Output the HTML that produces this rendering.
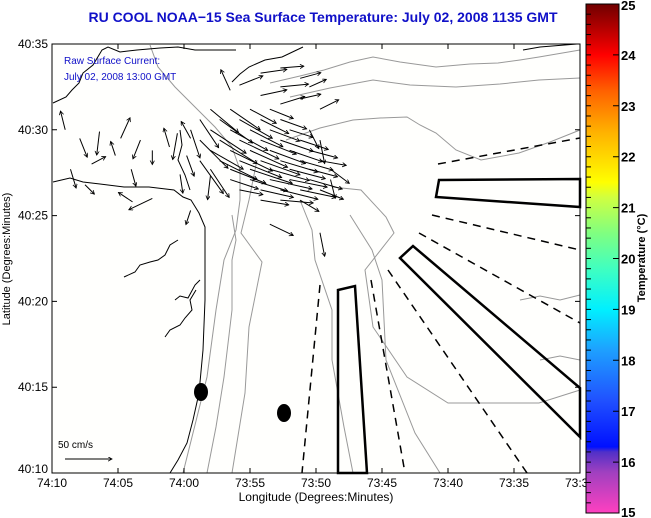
<!DOCTYPE html>
<html><head><meta charset="utf-8"><style>
html,body{margin:0;padding:0;background:#fff}
svg{display:block;font-family:"Liberation Sans",sans-serif}
</style></head><body>
<svg id="chart" width="651" height="518" viewBox="0 0 651 518">
<defs>
<linearGradient id="cbar" x1="0" y1="1" x2="0" y2="0">
<stop offset="0" stop-color="#ff40c0"/>
<stop offset="0.08" stop-color="#a040c0"/>
<stop offset="0.12" stop-color="#5030c8"/>
<stop offset="0.13" stop-color="#0010ff"/>
<stop offset="0.22" stop-color="#2050ff"/>
<stop offset="0.32" stop-color="#1ea0ff"/>
<stop offset="0.40" stop-color="#00f0ff"/>
<stop offset="0.48" stop-color="#40ffc0"/>
<stop offset="0.55" stop-color="#80ff80"/>
<stop offset="0.62" stop-color="#d0ff40"/>
<stop offset="0.65" stop-color="#ffff00"/>
<stop offset="0.75" stop-color="#ffb000"/>
<stop offset="0.83" stop-color="#ff6000"/>
<stop offset="0.90" stop-color="#ff0000"/>
<stop offset="1" stop-color="#700000"/>
</linearGradient>
<marker id="ah" markerWidth="5" markerHeight="5" refX="4" refY="2.2" orient="auto" markerUnits="userSpaceOnUse"><path d="M0,0 L4,2.2 L0,4.4" fill="none" stroke="#000" stroke-width="0.8"/></marker>
</defs>
<text x="323" y="22" text-anchor="middle" font-size="14" font-weight="bold" fill="#1010c8">RU COOL  NOAA−15  Sea Surface Temperature:  July 02, 2008 1135 GMT</text>
<rect x="52" y="44" width="528" height="429" fill="#fffffd"/>
<g id="contours" fill="none" stroke="#999" stroke-width="1">
<polyline points="150,45 158,67 175,87 195,107 215,127 232,147 240,170 240,200 236,230 224,260 216,310 207,377 183,473"/>
<polyline points="232,215 236,240 232,260 232,310 224,377 216,427 207,473"/>
<polyline points="257,160 249,200 241,233 262,262 249,327 245,393 232,473"/>
<polyline points="300,200 312,230 315,260 332,310 332,360 344,427 353,473"/>
<polyline points="350,215 372,250 382,280 386,360 415,433 440,473"/>
<polyline points="332,187 361,190 386,217 394,233 365,270 373,327 407,377 448,403 539,403 580,390"/>
<polyline points="270,83 300,76 324,70 350,62 373,57 400,62 436,67 470,64 498,63 520,60 539,57 580,50"/>
<polyline points="290,97 330,88 373,80 410,85 456,87 500,84 539,80 580,78"/>
<polyline points="286,140 320,128 353,120 380,118 407,117 420,125 436,133 456,150 481,160 519,153 550,142 580,130"/>
<polyline points="520,300 540,296 560,300 580,295"/>
<polyline points="540,360 560,356 580,360"/>
</g>
<g id="coast" fill="none" stroke="#000" stroke-width="1">
<polyline points="53,103 66,97 72,90 79,83 83,73 93,65 102,50 108,47 120,52 137,50 160,48 178,47 195,50 207,50 236,50"/>
<polyline points="232,82 240,74 249,67 265,60 282,57 303,47"/>
<polyline points="523,50 540,47 577,44"/>
<polyline points="53,182 70,178 83,182 100,184 124,187 149,187 174,190 183,197 191,200 199,213 205,227 205,260 205,300 203,350 199,393 193,420 187,443 178,460 170,473"/>
<polyline points="124,277 135,272 140,265 150,262 158,260 165,255 170,245 178,240"/>
<polyline points="165,337 170,330 180,325 185,318 192,310 190,300 196,290"/>
<polyline points="175,300 180,296 188,298 195,285 200,280"/>
<polyline points="180,130 182,145 178,160 185,175 190,190"/>
</g>
<g id="arrows"></g>
<g id="features">
<polygon points="439,180 580,179 580,207 436,197" fill="none" stroke="#000" stroke-width="2.5"/>
<polygon points="400,258 413,246 580,388 580,437" fill="none" stroke="#000" stroke-width="2.5"/>
<polygon points="338,473 338,290 355,286 367,473" fill="none" stroke="#000" stroke-width="2.5"/>
<g fill="none" stroke="#000" stroke-width="1.5" stroke-dasharray="8,6">
<line x1="438" y1="164" x2="580" y2="138"/>
<line x1="432" y1="215" x2="580" y2="250"/>
<line x1="419" y1="233" x2="580" y2="323"/>
<line x1="388" y1="270" x2="527" y2="473"/>
<line x1="371" y1="280" x2="405" y2="473"/>
<line x1="320" y1="285" x2="302" y2="473"/>
</g>
<ellipse cx="201" cy="392" rx="7" ry="9" fill="#000"/>
<ellipse cx="284" cy="413" rx="7" ry="9" fill="#000"/>
</g>
<text x="64" y="64" font-size="10" fill="#1010c8">Raw Surface Current:</text>
<text x="64" y="80" font-size="10" fill="#1010c8">July 02, 2008 13:00 GMT</text>
<text x="58" y="448" font-size="10" fill="#000">50 cm/s</text>
<line x1="65" y1="459" x2="112" y2="459" stroke="#000" stroke-width="1" marker-end="url(#ah)"/>
<rect x="52" y="44" width="528" height="429" fill="none" stroke="#000" stroke-width="1"/>
<g id="axes" font-size="12" fill="#000"></g>
<text x="316" y="501" text-anchor="middle" font-size="12">Longitude (Degrees:Minutes)</text>
<text transform="translate(10,259) rotate(-90)" text-anchor="middle" font-size="11">Latitude (Degrees:Minutes)</text>
<rect x="586" y="4" width="33" height="509" fill="url(#cbar)" stroke="#000" stroke-width="1"/>
<g id="cbticks" font-size="13" font-weight="bold"></g>
<text transform="translate(645,258) rotate(-90)" text-anchor="middle" font-size="11" font-weight="bold">Temperature (°C)</text>
</svg>
<script>
const xTickLabels = ["74:10","74:05","74:00","73:55","73:50","73:45","73:40","73:35","73:30"];
const yTickLabels = ["40:10","40:15","40:20","40:25","40:30","40:35"];
const cbLabels = [15,16,17,18,19,20,21,22,23,24,25];
// arrows: east-minutes from 74:10, north-minutes from 40:10, u & v in cm/s
const arrowLon = [15.8,17.3,18.8,17.3,15.8,17.3,18.8,14.2,19.5,20.3,13.5,
12.0,13.5,15.0,16.5, 11.2,12.7,14.2,15.8,17.3, 10.5,12.0,13.5,15.0,16.5,18.0,19.5,
11.2,12.7,14.2,15.8,17.3,18.8,20.3, 12.0,13.5,15.0,16.5,18.0,19.5,
11.2,12.7,14.2,15.8,17.3,18.8,20.3, 12.0,13.5,15.0,16.5,18.0,19.5,21.1,
13.5,15.0,16.5,18.0,19.5,21.1, 14.2,15.8,17.3,18.8,20.3, 15.8,17.3,18.8,
16.5,20.3,7.6,6.1,10.5,12.0,
1.0,2.1,3.6,5.2,6.7,1.4,3.0,4.8,6.0,7.6,2.5,8.9,9.7,10.5,9.5,10.2];
const arrowLat = [23.3,23.6,23.0,22.5,22.0,21.5,21.8,22.6,22.5,21.2,22.3,
21.2,21.2,21.2,21.2, 20.6,20.6,20.6,20.6,20.6, 20.0,20.0,20.0,20.0,20.0,20.0,20.0,
19.4,19.4,19.4,19.4,19.4,19.4,19.4, 18.8,18.8,18.8,18.8,18.8,18.8,
18.2,18.2,18.2,18.2,18.2,18.2,18.2, 17.7,17.7,17.7,17.7,17.7,17.7,17.7,
17.1,17.1,17.1,17.1,17.1,17.1, 16.5,16.5,16.5,16.5,16.5, 15.9,15.9,15.9,
14.5,14.0,16.0,15.8,15.3,17.3,
20.0,19.5,19.9,19.5,19.4,17.7,18.0,18.5,17.7,18.8,16.8,19.0,17.4,19.5,19.8,18.5];
const arrowU = [28,25,22,30,28,26,22,25,18,20,-10,
30,32,28,25, 20,35,35,30,28, 10,38,40,35,32,25,10,
30,40,42,38,35,30,5, 35,45,40,38,35,30,
25,40,45,42,40,35,28, 20,38,45,42,38,30,20,
30,40,45,40,35,5, 25,35,40,38,25, 30,35,20,
25,5,-25,-15,-5,-3,
-5,8,-3,10,-8,6,15,-5,5,0,10,-6,3,-10,-5,8];
const arrowV = [4,2,6,3,6,8,5,10,8,10,22,
-25,-22,-15,-10, -30,-25,-20,-15,-10, -30,-25,-22,-18,-12,-8,-20,
-30,-25,-20,-15,-12,-10,-25, -20,-22,-18,-14,-12,-8,
-35,-20,-18,-15,-12,-10,-5, -30,-15,-15,-12,-10,-8,-15,
-10,-12,-10,-8,-10,-20, -5,-8,-10,-8,-10, -5,-3,-12,
-12,-25,-12,10,-15,-25,
20,-20,-25,22,-20,-20,8,15,-18,-15,-10,20,-20,18,-28,-22];

const NS="http://www.w3.org/2000/svg";
const X0=52,X1=580,Y0=473,Y1=44;
function xScale(m){return X0+m*(X1-X0)/40;}
function yScale(l){return Y0-l*(Y0-Y1)/25;}
const pxPerCm=47/50;
const ag=document.getElementById('arrows');
for(let i=0;i<arrowLon.length;i++){
  const x=xScale(arrowLon[i]), y=yScale(arrowLat[i]);
  const l=document.createElementNS(NS,'line');
  l.setAttribute('x1',x);l.setAttribute('y1',y);
  l.setAttribute('x2',x+arrowU[i]*pxPerCm);l.setAttribute('y2',y-arrowV[i]*pxPerCm);
  l.setAttribute('stroke','#000');l.setAttribute('stroke-width','1');
  l.setAttribute('marker-end','url(#ah)');
  
  
  ag.appendChild(l);
}
const axg=document.getElementById('axes');
xTickLabels.forEach((t,i)=>{
  const x=xScale(i*5);
  const tk=document.createElementNS(NS,'path');
  tk.setAttribute('d',`M${x},${Y0}v-5M${x},${Y1}v5`);tk.setAttribute('stroke','#000');
  
  
  axg.appendChild(tk);
  const tx=document.createElementNS(NS,'text');
  tx.setAttribute('x',x);tx.setAttribute('y',487);tx.setAttribute('text-anchor','middle');
  tx.textContent=t;
  
  
  axg.appendChild(tx);
});
yTickLabels.forEach((t,i)=>{
  const y=yScale(i*5);
  const tk=document.createElementNS(NS,'path');
  tk.setAttribute('d',`M${X0},${y}h5M${X1},${y}h-5`);tk.setAttribute('stroke','#000');
  
  
  axg.appendChild(tk);
  const tx=document.createElementNS(NS,'text');
  tx.setAttribute('x',48);tx.setAttribute('y',y+(i===0?0:4));tx.setAttribute('text-anchor','end');
  tx.textContent=t;
  
  
  axg.appendChild(tx);
});
const cbg=document.getElementById('cbticks');
function cy(v){return 513-(v-15)*509/10;}
for(let k=0;k<=50;k++){
  const y=cy(15+k*0.2);
  const tk=document.createElementNS(NS,'path');
  tk.setAttribute('d',`M586,${y}h5`+(k%5===0?`M619,${y}h-6`:''));tk.setAttribute('stroke','#000');
  
  
  cbg.appendChild(tk);
}
cbLabels.forEach(v=>{
  const tx=document.createElementNS(NS,'text');
  tx.setAttribute('x',621);tx.setAttribute('y',Math.min(517,Math.max(10,cy(v)+5)));
  tx.textContent=v;
  
  
  cbg.appendChild(tx);
});
</script>
</body></html>
